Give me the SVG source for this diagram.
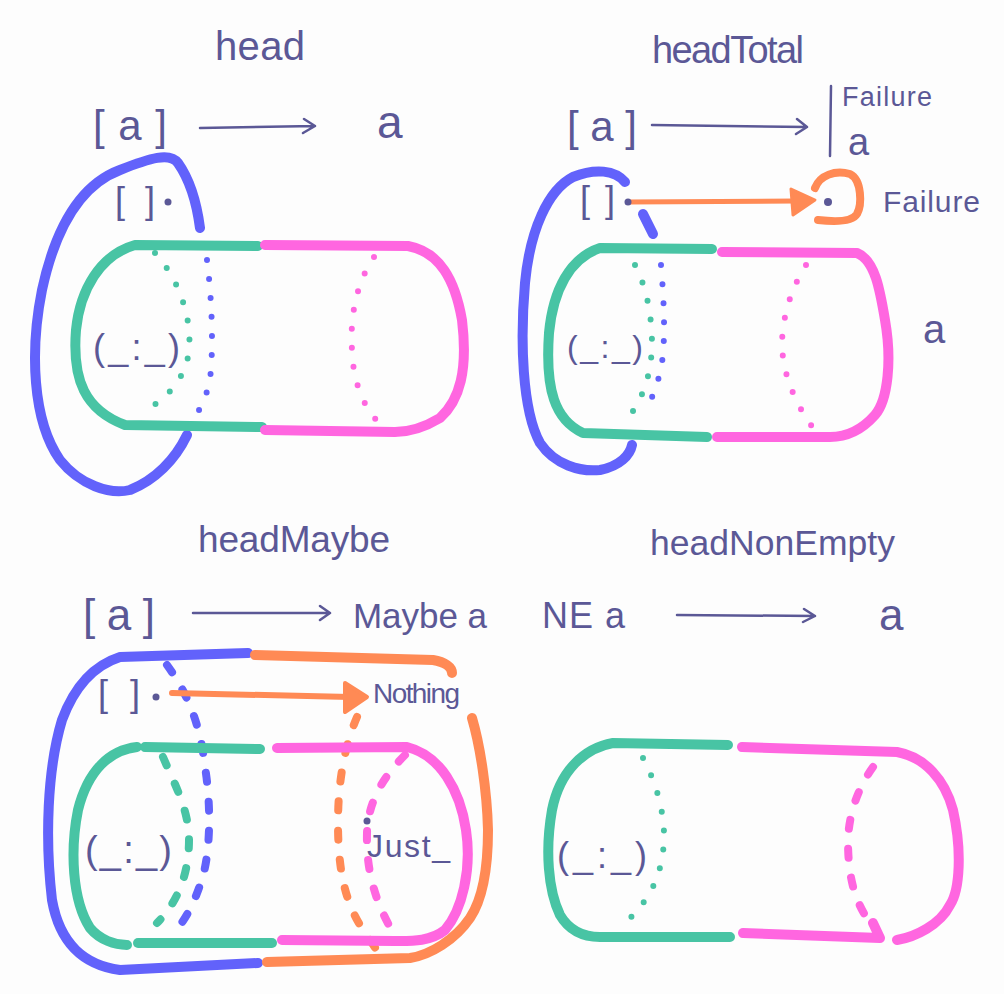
<svg xmlns="http://www.w3.org/2000/svg" width="1004" height="994" viewBox="0 0 1004 994">
<style>
text{font-family:"Liberation Sans","DejaVu Sans",sans-serif;fill:#5b5896}
.ln{fill:none;stroke-linecap:round;stroke-linejoin:round}
.th{stroke-width:10}
.g{stroke:#48c4a4}.p{stroke:#ff66e0}.b{stroke:#6262fb}.o{stroke:#ff8a55}
.dot{stroke-width:6;stroke-dasharray:0 19}
.dash{stroke-width:8;stroke-dasharray:9 20}
.ar{fill:none;stroke:#5b5896;stroke-width:2.5;stroke-linecap:round;stroke-linejoin:round}
</style>
<rect width="1004" height="994" fill="#fdfdfd"/>

<g id="panel-head">
<text x="215" y="60" font-size="40" textLength="90" lengthAdjust="spacing">head</text>
<text x="93" y="140" font-size="42" textLength="74" lengthAdjust="spacing">[a]</text>
<path class="ar" d="M200,128 L315,126 M304,119 L315,126 L303,133"/>
<text x="377" y="138" font-size="46">a</text>
<path class="ln th b" d="M200,228 C197,205 190,180 178,163 C170,152 150,158 120,170 C80,185 55,230 42,290 C30,350 32,420 60,460 C80,485 110,495 130,490 C155,480 175,460 187,435"/>
<text x="115" y="213" font-size="36" textLength="40" lengthAdjust="spacing">[]</text>
<circle cx="168" cy="202" r="3.5" fill="#5b5896"/>
<path class="ln th g" d="M258,246 L135,245 C100,255 80,290 76,330 C72,380 85,410 125,425 L262,427"/>
<path class="ln th p" d="M265,245 L408,246 C440,252 455,280 462,320 C468,370 460,400 440,418 C420,430 405,432 395,432 L265,430"/>
<path class="ln dot g" d="M155,253 C180,280 192,320 189,350 C186,380 165,400 141,413"/>
<path class="ln dot b" d="M207,260 C212,300 213,340 211,370 C209,390 203,405 197,413"/>
<path class="ln dot p" d="M374,257 C355,285 350,320 352,350 C353,380 362,405 379,423"/>
<text x="93" y="360" font-size="36" textLength="87" lengthAdjust="spacing">(_:_)</text>
</g>

<g id="panel-headTotal">
<text x="652" y="63" font-size="38" textLength="152" lengthAdjust="spacing">headTotal</text>
<text x="567" y="141" font-size="42" textLength="70" lengthAdjust="spacing">[a]</text>
<path class="ar" d="M652,125 L807,127 M797,119 L807,127 L796,134"/>
<path class="ar" d="M831,86 L830,156"/>
<text x="842" y="106" font-size="27" textLength="90" lengthAdjust="spacing">Failure</text>
<text x="848" y="155" font-size="38">a</text>
<path class="ln th b" d="M625,182 C615,170 595,168 573,177 C548,190 530,230 525,283 C520,340 522,410 540,443 C555,465 580,472 600,470 C620,466 630,455 632,445"/>
<path class="ln th b" d="M643,214 L653,234"/>
<text x="580" y="212" font-size="36" textLength="35" lengthAdjust="spacing">[]</text>
<path class="ln o" stroke-width="5" d="M628,202 L795,201"/>
<polygon points="791,189 815,200 793,215" fill="#ff8a55" stroke="#ff8a55" stroke-width="3" stroke-linejoin="round"/>
<path class="ln o" stroke-width="8" d="M815,188 C820,175 835,170 850,174 C862,180 862,205 857,214 C852,222 835,222 818,220"/>
<circle cx="628" cy="202" r="3.5" fill="#5b5896"/>
<circle cx="828" cy="202" r="4" fill="#5b5896"/>
<text x="883" y="212" font-size="30" textLength="97" lengthAdjust="spacing">Failure</text>
<path class="ln th g" d="M712,249 L600,248 C570,258 553,290 549,333 C545,390 555,420 583,433 L707,437"/>
<path class="ln th p" d="M722,252 L857,253 C875,260 880,290 885,320 C892,360 888,400 875,415 C860,432 845,437 830,437 L717,437"/>
<path class="ln dot g" d="M635,265 C648,290 652,320 652,345 C651,380 640,405 623,424"/>
<path class="ln dot b" d="M661,265 C664,300 665,330 663,355 C660,380 652,400 644,412"/>
<path class="ln dot p" d="M806,265 C790,290 782,320 782,345 C783,380 800,410 813,428"/>
<text x="567" y="358" font-size="32" textLength="76" lengthAdjust="spacing">(_:_)</text>
<text x="923" y="343" font-size="40">a</text>
</g>

<g id="panel-headMaybe">
<text x="198" y="552" font-size="37" textLength="192" lengthAdjust="spacing">headMaybe</text>
<text x="83" y="630" font-size="44" textLength="72" lengthAdjust="spacing">[a]</text>
<path class="ar" d="M193,613 L330,613 M320,606 L330,613 L320,620"/>
<text x="353" y="628" font-size="35" textLength="134" lengthAdjust="spacing">Maybe a</text>
<path class="ln th b" d="M248,653 L120,657 C95,665 75,685 62,720 C47,770 45,840 52,900 C60,945 85,965 120,970 L258,963"/>
<path class="ln th o" d="M255,655 L433,660 C445,662 452,667 452,673"/>
<path class="ln th o" d="M472,718 C480,745 487,790 488,830 C488,870 482,900 470,918 C455,940 430,955 410,958 L267,962"/>
<text x="98" y="706" font-size="36" textLength="42" lengthAdjust="spacing">[]</text>
<circle cx="156" cy="697" r="3.5" fill="#5b5896"/>
<path class="ln dash b" d="M167,665 C185,690 200,720 205,767 C212,810 210,860 200,885 C195,900 188,915 180,925"/>
<path class="ln o" stroke-width="6" d="M172,693 L350,697"/>
<polygon points="345,683 367,697 345,712" fill="#ff8a55" stroke="#ff8a55" stroke-width="4" stroke-linejoin="round"/>
<text x="373" y="703" font-size="28" textLength="87" lengthAdjust="spacing">Nothing</text>
<path class="ln dash o" d="M357,717 C345,745 338,780 338,823 C338,870 345,900 360,925 L378,952"/>
<path class="ln th g" d="M137,747 C110,750 88,770 78,810 C70,850 72,900 90,928 C100,940 115,945 127,945"/>
<path class="ln th g" d="M145,747 L260,749"/>
<path class="ln th g" d="M138,943 L272,943"/>
<path class="ln th p" d="M277,748 L407,747 C440,755 460,790 466,830 C472,870 462,910 445,930 C430,942 410,941 395,941 L282,940"/>
<path class="ln dash g" d="M163,757 C175,785 189,810 189,840 C189,870 180,900 157,923"/>
<path class="ln dash p" d="M405,755 C385,775 368,800 367,833 C366,870 375,900 390,927"/>
<circle cx="367" cy="821" r="3.5" fill="#5b5896"/>
<text x="367" y="857" font-size="32" textLength="83" lengthAdjust="spacing">Just_</text>
<text x="85" y="863" font-size="38" textLength="87" lengthAdjust="spacing">(_:_)</text>
</g>

<g id="panel-headNonEmpty">
<text x="650" y="555" font-size="35.5" textLength="245" lengthAdjust="spacing">headNonEmpty</text>
<text x="542" y="628" font-size="36" textLength="83" lengthAdjust="spacing">NE a</text>
<path class="ar" d="M677,615 L815,616 M804,609 L815,616 L803,622"/>
<text x="879" y="630" font-size="44">a</text>
<path class="ln th g" d="M728,745 L613,743 C585,748 560,770 552,810 C545,850 548,890 560,915 C570,932 585,937 600,937 L730,937"/>
<path class="ln th p" d="M742,747 L897,752 C925,757 945,780 953,810 C962,850 960,890 950,905 C940,925 915,937 897,940"/>
<path class="ln th p" d="M743,933 L880,938 L873,923"/>
<path class="ln dot g" d="M643,758 C655,780 664,810 664,835 C664,865 655,895 628,920"/>
<path class="ln dash p" d="M873,767 C858,788 849,813 848,840 C848,870 852,900 872,925"/>
<text x="557" y="868" font-size="36" textLength="90" lengthAdjust="spacing">(_:_)</text>
</g>
</svg>
